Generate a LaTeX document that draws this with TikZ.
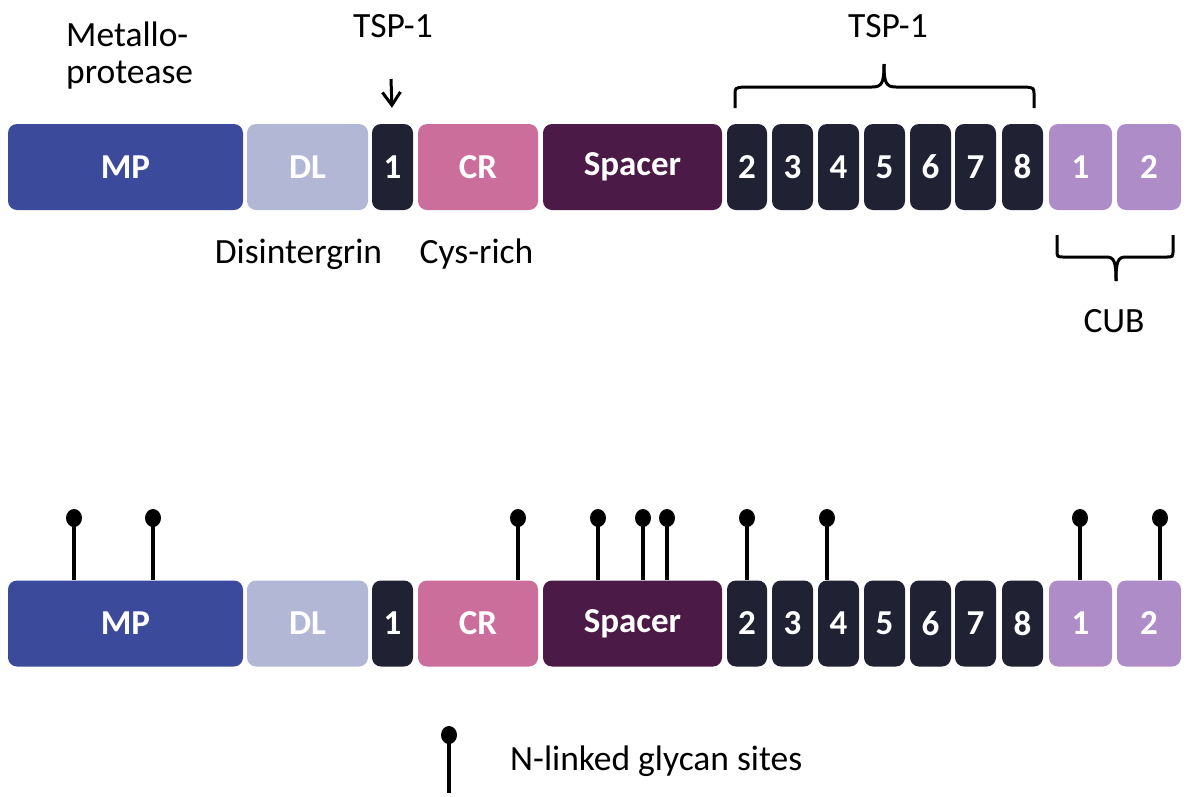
\documentclass[tikz,border=0pt]{standalone}
\usepackage{fontspec}
\setmainfont{Carlito}
\usetikzlibrary{arrows.meta,shapes.geometric}
\definecolor{mpblue}{RGB}{60,74,155}
\definecolor{dlgray}{RGB}{178,183,214}
\definecolor{tspdark}{RGB}{32,34,52}
\definecolor{crpink}{RGB}{204,110,156}
\definecolor{spacerpurple}{RGB}{76,26,70}
\definecolor{cublilac}{RGB}{174,140,200}
\tikzset{
  dom/.style={rounded corners=9pt, inner sep=0pt, minimum height=86pt, text=white,
    font=\fontsize{35}{40}\selectfont\bfseries},
  lbl/.style={inner sep=0pt, font=\fontsize{35.5}{40}\selectfont, text=black},
  ball/.style={ellipse, fill=black, inner sep=0pt, minimum width=16pt, minimum height=18pt},
  stick/.style={line width=4.5pt, black},
  brc/.style={line width=3pt, black},
  arr/.style={line width=3pt, -{Straight Barb[length=13pt,width=18pt,line width=3pt]}}
}
\begin{document}
\begin{tikzpicture}[x=1pt,y=-1pt]
\useasboundingbox (0,0) rectangle (1188,796);
% ---------- top row ----------
\foreach \nm/\cx/\w/\col/\txt in {
  mpA/125.5/235/mpblue/MP, dlA/307.5/121/dlgray/DL, tA1/392.5/41/tspdark/1,
  crA/478/120/crpink/CR, spA/632.5/179/spacerpurple/Spacer,
  tA2/747/40/tspdark/2, tA3/792.5/41/tspdark/3, tA4/838.5/41/tspdark/4,
  tA5/884.5/41/tspdark/5, tA6/930.5/41/tspdark/6, tA7/975.5/41/tspdark/7,
  tA8/1022.5/41/tspdark/8, cA1/1080.5/63/cublilac/1, cA2/1149/64/cublilac/2}
  \node[dom, fill=\col, minimum width=\w pt] (\nm) at (\cx,167) {\txt};
% ---------- bottom row ----------
\foreach \nm/\cx/\w/\col/\txt in {
  mpB/125.5/235/mpblue/MP, dlB/307.5/121/dlgray/DL, tB1/392.5/41/tspdark/1,
  crB/478/120/crpink/CR, spB/632.5/179/spacerpurple/Spacer,
  tB2/747/40/tspdark/2, tB3/792.5/41/tspdark/3, tB4/838.5/41/tspdark/4,
  tB5/884.5/41/tspdark/5, tB6/930.5/41/tspdark/6, tB7/975.5/41/tspdark/7,
  tB8/1022.5/41/tspdark/8, cB1/1080.5/63/cublilac/1, cB2/1149/64/cublilac/2}
  \node[dom, fill=\col, minimum width=\w pt] (\nm) at (\cx,623.5) {\txt};
% ---------- labels top ----------
\node[lbl, anchor=base west] (met1) at (66,46) {Metallo-};
\node[lbl, anchor=base west] (met2) at (66,83) {protease};
\node[lbl, anchor=base] (tspone) at (393,37) {TSP-1};
\draw[arr, shorten >=16pt] (391,79) -- (tA1.north);
\node[lbl, anchor=base] (tspmany) at (888,37) {TSP-1};
\node[lbl, anchor=base] (disi) at (298.5,263) {Disintergrin};
\node[lbl, anchor=base] (cys) at (476.5,263) {Cys-rich};
\node[lbl, anchor=base] (cub) at (1114,332) {CUB};
% TSP brace
\coordinate (bl) at (735,108);
\coordinate (br) at (1034,108);
\coordinate (bt) at (884,64);
\draw[brc] (bl) -- (735,95) .. controls (735,88) .. (743,87) -- (872,87)
  .. controls (882,87) and (884,83) .. (bt);
\draw[brc] (br) -- (1034,95) .. controls (1034,88) .. (1026,87) -- (896,87)
  .. controls (886,87) and (884,83) .. (bt);
% CUB brace
\coordinate (cl) at (1057,235);
\coordinate (cr) at (1173,235);
\coordinate (ct) at (1116,281);
\draw[brc] (cl) -- (1057,250) .. controls (1057,257) .. (1064,257) -- (1106,257)
  .. controls (1114,257) and (1116,261) .. (ct);
\draw[brc] (cr) -- (1173,250) .. controls (1173,257) .. (1166,257) -- (1126,257)
  .. controls (1118,257) and (1116,261) .. (ct);
% ---------- glycan pins ----------
\foreach \i/\px/\bx in {1/74/mpB, 2/153/mpB, 3/518/crB, 4/598/spB, 5/643/spB,
  6/667/spB, 7/747/tB2, 8/827/tB4, 9/1080/cB1, 10/1160/cB2} {
  \node[ball] (g\i) at (\px,518) {};
  \draw[stick] (g\i.center) -- (g\i |- \bx.north);
}
% ---------- legend ----------
\node[ball] (lg) at (449,735) {};
\coordinate (lgend) at (449,793);
\draw[stick] (lg.center) -- (lgend);
\node[lbl, anchor=base west] (lgtxt) at (510,770) {N-linked glycan sites};
\end{tikzpicture}
\end{document}
